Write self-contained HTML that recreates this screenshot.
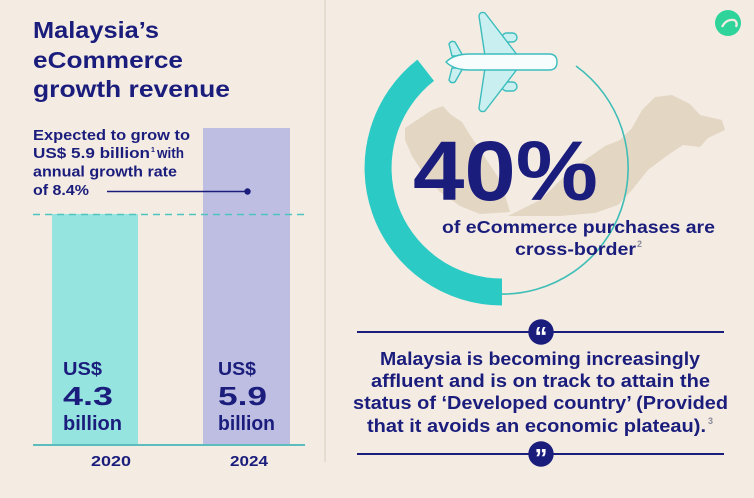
<!DOCTYPE html>
<html>
<head>
<meta charset="utf-8">
<style>
html,body{margin:0;padding:0;background:#f4ece3;}
svg{display:block;}
text{font-family:"Liberation Sans",Arial,sans-serif;font-weight:bold;fill:#1b1d7c;}
</style>
</head>
<body>
<svg width="754" height="498" viewBox="0 0 754 498" xmlns="http://www.w3.org/2000/svg">
<rect x="0" y="0" width="754" height="498" fill="#f4ece3"/>

<!-- divider -->
<rect x="324" y="0" width="2" height="462" fill="#e6ddd0"/>

<!-- LEFT: title -->
<text x="33" y="38" font-size="23.5" textLength="126" lengthAdjust="spacingAndGlyphs">Malaysia’s</text>
<text x="33" y="68" font-size="23.5" textLength="150" lengthAdjust="spacingAndGlyphs">eCommerce</text>
<text x="33" y="97" font-size="23.5" textLength="197" lengthAdjust="spacingAndGlyphs">growth revenue</text>

<!-- bars -->
<rect x="52" y="214" width="86" height="231" fill="#95e4e0"/>
<rect x="203" y="128" width="87" height="317" fill="#bebee2"/>

<!-- subtitle -->
<text x="33" y="140" font-size="14.5" textLength="157" lengthAdjust="spacingAndGlyphs">Expected to grow to</text>
<text x="33" y="158" font-size="14.5" textLength="117" lengthAdjust="spacingAndGlyphs">US$ 5.9 billion</text>
<text x="151" y="152" font-size="7" font-weight="normal">1</text>
<text x="157" y="158" font-size="14.5" textLength="27" lengthAdjust="spacingAndGlyphs">with</text>
<text x="33" y="176.5" font-size="14.5" textLength="144" lengthAdjust="spacingAndGlyphs">annual growth rate</text>
<text x="33" y="195" font-size="14.5" textLength="56" lengthAdjust="spacingAndGlyphs">of 8.4%</text>
<line x1="107" y1="191.5" x2="247" y2="191.5" stroke="#1b1d7c" stroke-width="1.6"/>
<circle cx="247.5" cy="191.5" r="3.2" fill="#1b1d7c"/>

<!-- dashed line -->
<line x1="33" y1="214.5" x2="305" y2="214.5" stroke="#4fc3c0" stroke-width="1.6" stroke-dasharray="7 5"/>

<!-- baseline -->
<line x1="33" y1="445" x2="305" y2="445" stroke="#5bbdbd" stroke-width="2"/>

<!-- bar labels -->
<text x="63" y="375" font-size="18" font-weight="normal" textLength="39" lengthAdjust="spacingAndGlyphs">US$</text>
<text x="63" y="405" font-size="26" textLength="50" lengthAdjust="spacingAndGlyphs">4.3</text>
<text x="63" y="430" font-size="20" font-weight="normal" textLength="59" lengthAdjust="spacingAndGlyphs">billion</text>

<text x="218" y="375" font-size="18" font-weight="normal" textLength="38" lengthAdjust="spacingAndGlyphs">US$</text>
<text x="218" y="405" font-size="26" textLength="49" lengthAdjust="spacingAndGlyphs">5.9</text>
<text x="218" y="430" font-size="20" font-weight="normal" textLength="57" lengthAdjust="spacingAndGlyphs">billion</text>

<text x="91" y="466" font-size="14.5" textLength="40" lengthAdjust="spacingAndGlyphs">2020</text>
<text x="230" y="466" font-size="14.5" textLength="38" lengthAdjust="spacingAndGlyphs">2024</text>

<!-- RIGHT: map -->
<g fill="#e3d6c3">
<path d="M405,128 L420,118 L432,110 L443,106 L450,114 L462,122 L470,135 L480,150 L490,165 L500,180 L505,195 L510,212 L480,214 L460,206 L440,192 L425,176 L412,156 L405,140 Z"/>
<path d="M508,216 L540,200 L565,176 L585,160 L605,146 L620,140 L632,128 L642,110 L655,97 L672,95 L690,104 L700,115 L722,120 L725,130 L708,138 L700,147 L683,145 L668,155 L648,170 L632,190 L618,205 L595,213 L560,216 Z"/>
</g>

<!-- thin circle arc -->
<path d="M576,66 A126,126 0 0 1 497.6,294" fill="none" stroke="#3fbdb6" stroke-width="1.6"/>
<!-- thick arc -->
<path d="M502,292 A124,124 0 0 1 425.7,70.3" fill="none" stroke="#2ccac4" stroke-width="27"/>

<!-- plane -->
<g stroke="#3bbdbd" stroke-width="1.4" stroke-linejoin="round">
<rect x="502" y="33" width="15" height="9" rx="4.5" fill="#c9eff0"/>
<rect x="502" y="82" width="15" height="9" rx="4.5" fill="#c9eff0"/>
<path d="M485,56 L479,16 Q480,11 485,13 L518,56 Z" fill="#c9eff0"/>
<path d="M485,68 L479,108 Q480,113 485,111 L518,68 Z" fill="#c9eff0"/>
<path d="M452,56 L449,44 Q451,40 455,42 L463,56 Z" fill="#c9eff0"/>
<path d="M452,68 L449,80 Q451,84 455,82 L463,68 Z" fill="#c9eff0"/>
<path d="M446,62 Q454,54 470,54 L549,54 Q557,54 557,62 Q557,70 549,70 L470,70 Q454,70 446,62 Z" fill="#f7fdfd"/>
</g>

<!-- logo -->
<circle cx="728" cy="23" r="13" fill="#2fd49b"/>
<path d="M722,27 Q726,19 734,20 Q738,22 736,27" fill="none" stroke="#f4ece3" stroke-width="2.2"/>

<!-- 40% -->
<text x="413" y="200" font-size="84" textLength="185" lengthAdjust="spacingAndGlyphs">40%</text>
<text x="442" y="233" font-size="17.5" textLength="273" lengthAdjust="spacingAndGlyphs">of eCommerce purchases are</text>
<text x="515" y="255" font-size="17.5" textLength="121" lengthAdjust="spacingAndGlyphs">cross-border</text>
<text x="637" y="247" font-size="9" font-weight="normal" style="fill:#8a8a9a">2</text>

<!-- quote -->
<line x1="357" y1="332" x2="724" y2="332" stroke="#1b1d7c" stroke-width="2"/>
<circle cx="541" cy="332" r="12.7" fill="#1b1d7c"/>
<text x="541" y="345" font-size="26" text-anchor="middle" style="fill:#ffffff">“</text>

<text x="380" y="365" font-size="18" textLength="320" lengthAdjust="spacingAndGlyphs">Malaysia is becoming increasingly</text>
<text x="371" y="387" font-size="18" textLength="339" lengthAdjust="spacingAndGlyphs">affluent and is on track to attain the</text>
<text x="353" y="409" font-size="18" textLength="375" lengthAdjust="spacingAndGlyphs">status of ‘Developed country’ (Provided</text>
<text x="367" y="432" font-size="18" textLength="339" lengthAdjust="spacingAndGlyphs">that it avoids an economic plateau).</text>
<text x="708" y="424" font-size="9" font-weight="normal" style="fill:#8a8a9a">3</text>

<line x1="357" y1="454" x2="724" y2="454" stroke="#1b1d7c" stroke-width="2"/>
<circle cx="541" cy="454" r="12.7" fill="#1b1d7c"/>
<text x="541" y="467" font-size="26" text-anchor="middle" style="fill:#ffffff">”</text>
</svg>
</body>
</html>
